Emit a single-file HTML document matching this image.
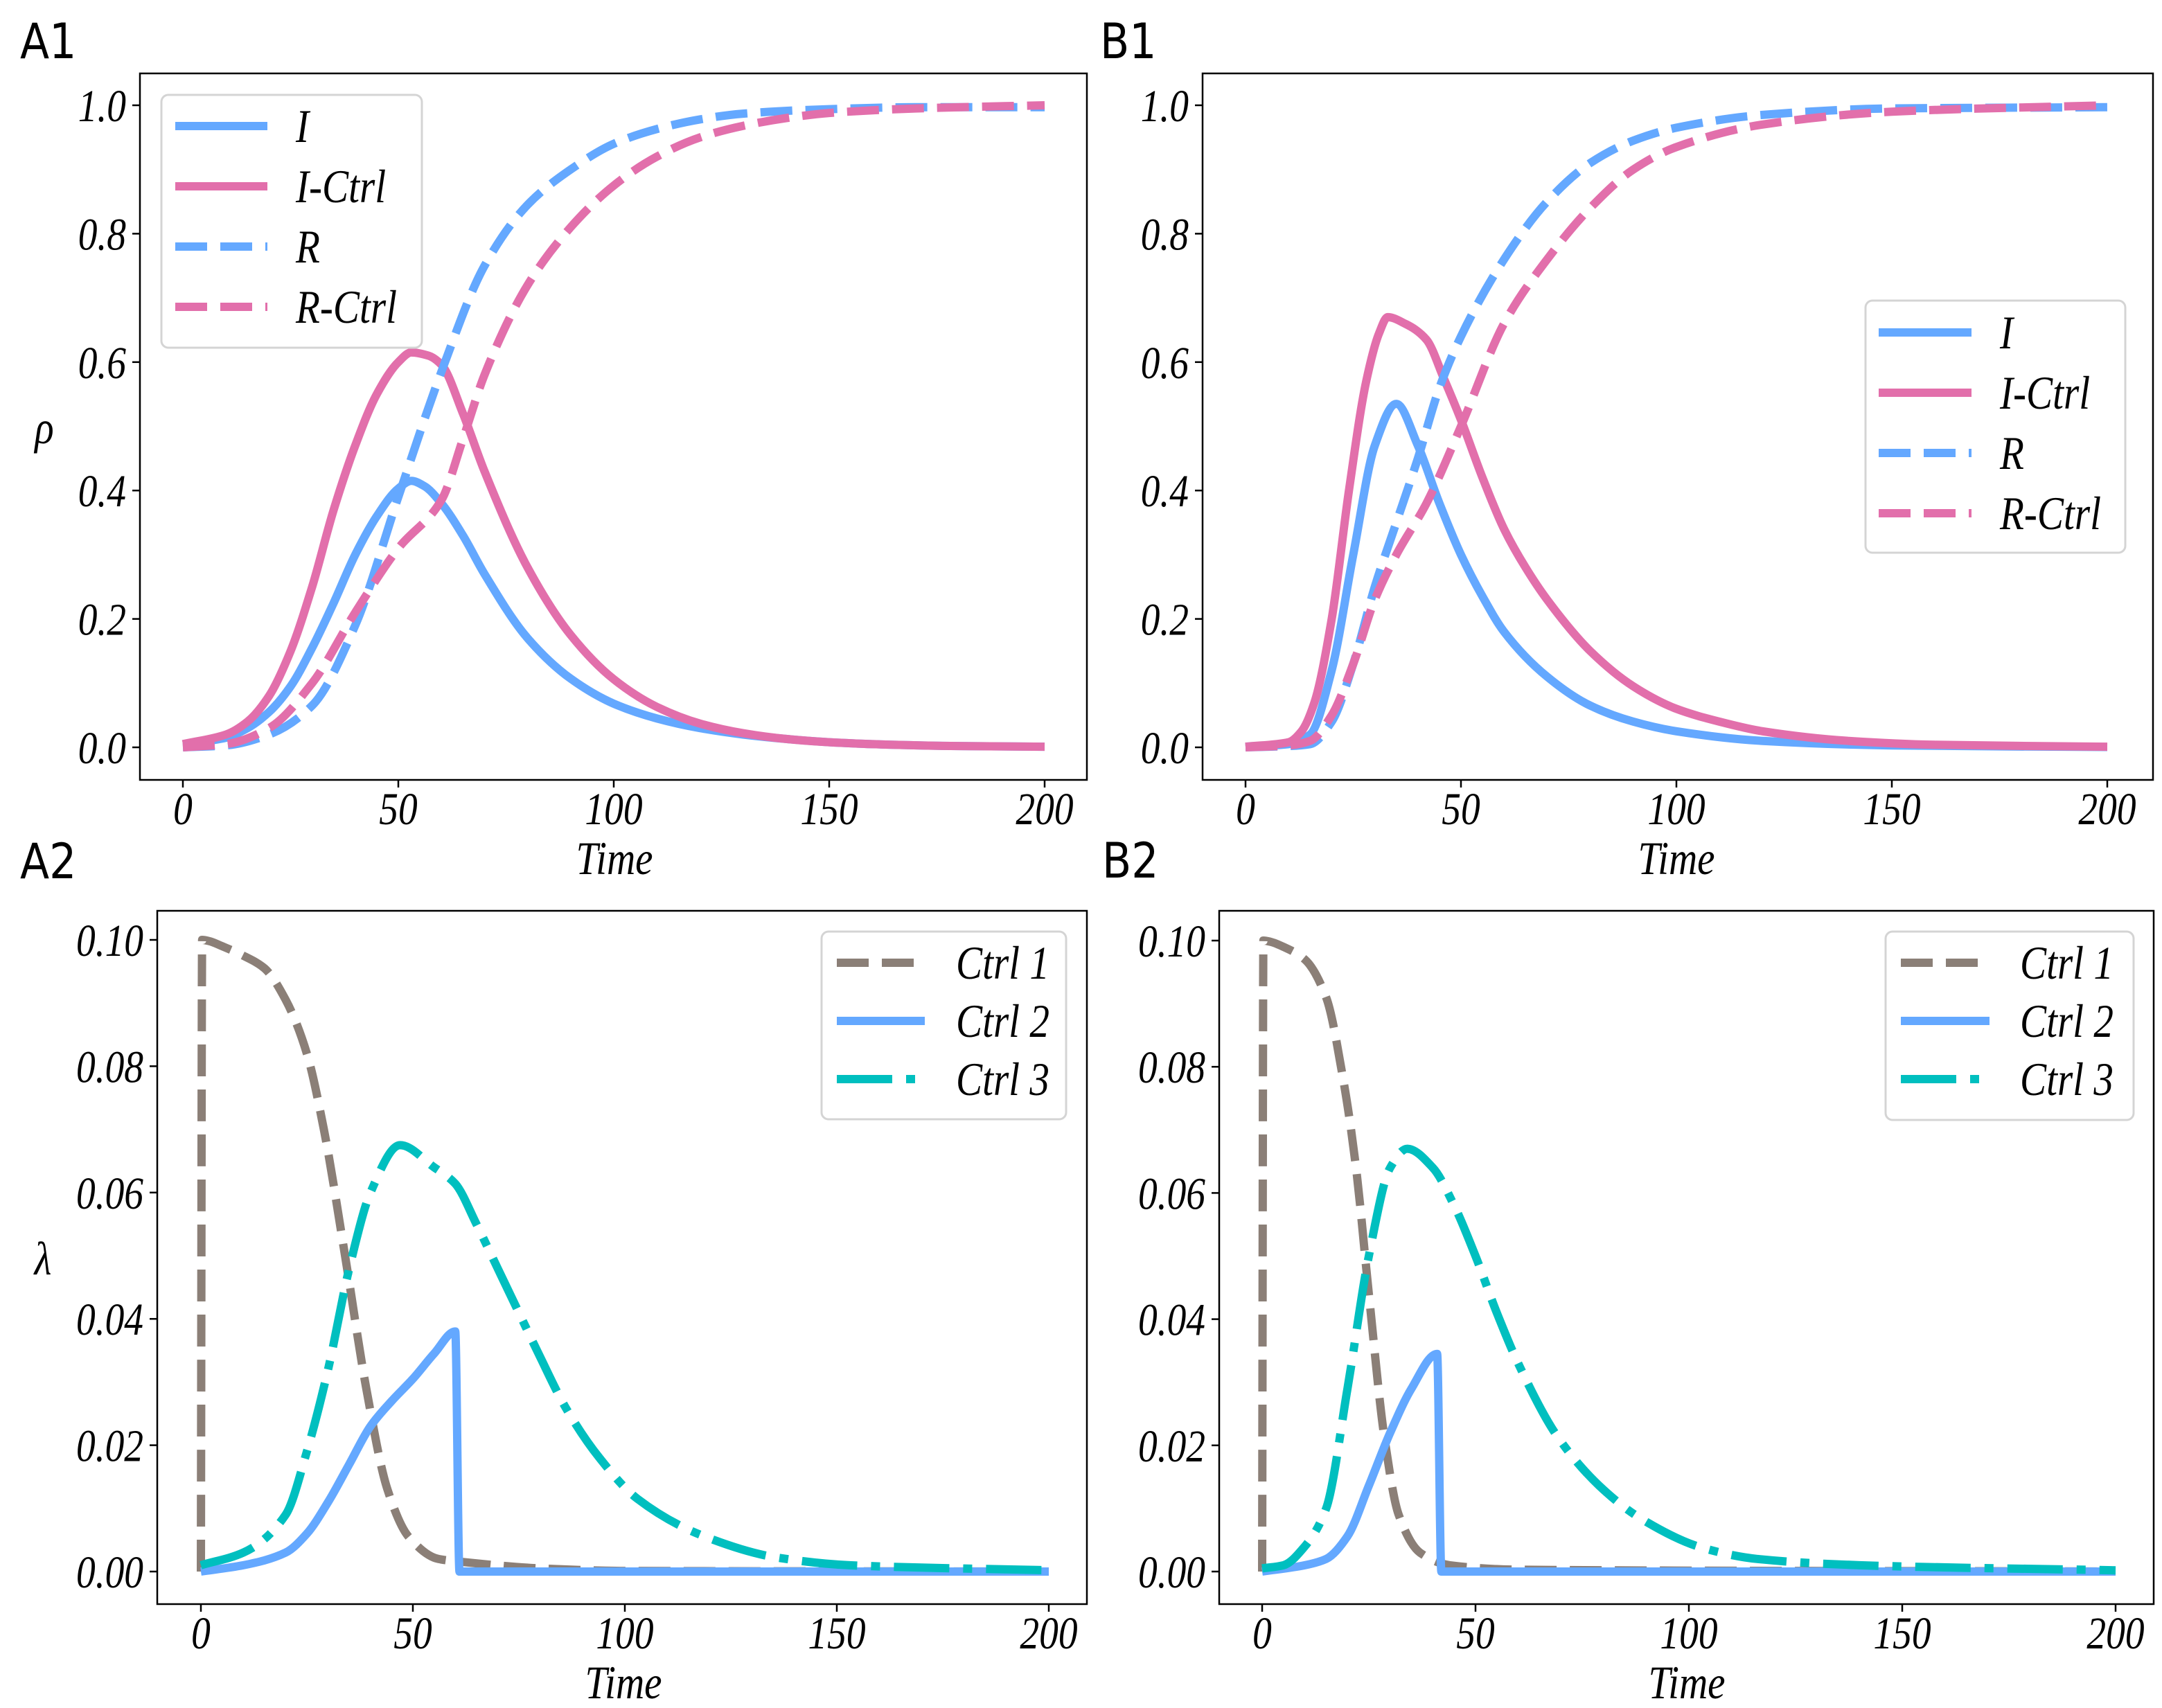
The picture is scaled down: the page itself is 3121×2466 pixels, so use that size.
<!DOCTYPE html>
<html><head><meta charset="utf-8">
<style>
html,body{margin:0;padding:0;background:#fff;}
svg{display:block;}
.tick{font-family:"Liberation Serif",serif;font-style:italic;font-size:66px;fill:#000;}
.lab{font-family:"Liberation Serif",serif;font-style:italic;font-size:68px;fill:#000;}
.leg{font-family:"Liberation Serif",serif;font-style:italic;font-size:68px;fill:#000;}
.pan{font-family:"DejaVu Sans","Liberation Sans",sans-serif;font-size:70px;fill:#000;}
</style></head>
<body>
<svg id="fig" width="3121" height="2466" viewBox="0 0 3121 2466" xmlns="http://www.w3.org/2000/svg">
<text class="pan" x="29" y="84" transform="translate(29 0) scale(0.88 1) translate(-29 0)">A1</text>
<text class="pan" x="1588" y="84" transform="translate(1588 0) scale(0.88 1) translate(-1588 0)">B1</text>
<text class="pan" x="29" y="1268" transform="translate(29 0) scale(0.88 1) translate(-29 0)">A2</text>
<text class="pan" x="1591" y="1267" transform="translate(1591 0) scale(0.88 1) translate(-1591 0)">B2</text>
</svg>
<script>
// ---------- data ----------
const xTicks = [0, 50, 100, 150, 200];
const xTickLabels = ["0", "50", "100", "150", "200"];
const rhoTicks = [0, 0.2, 0.4, 0.6, 0.8, 1.0];
const rhoTickLabels = ["0.0", "0.2", "0.4", "0.6", "0.8", "1.0"];
const lamTicks = [0, 0.02, 0.04, 0.06, 0.08, 0.10];
const lamTickLabels = ["0.00", "0.02", "0.04", "0.06", "0.08", "0.10"];

// A1
const a1_I_t = [0,10,15,20,25,30,35,40,45,50,53,56,60,65,70,80,90,100,110,120,130,140,150,160,180,200];
const a1_I_v = [0.005,0.015,0.03,0.055,0.095,0.155,0.225,0.3,0.36,0.403,0.415,0.407,0.38,0.33,0.27,0.17,0.107,0.068,0.045,0.03,0.02,0.013,0.008,0.005,0.002,0.001];
const a1_IC_t = [0,10,15,20,25,30,35,40,45,50,53,57,60,65,70,80,90,100,110,120,130,140,150,160,180,200];
const a1_IC_v = [0.005,0.02,0.04,0.08,0.15,0.25,0.37,0.47,0.55,0.6,0.615,0.61,0.596,0.52,0.43,0.28,0.175,0.106,0.063,0.037,0.022,0.013,0.008,0.005,0.002,0.001];
const a1_R_t = [0,10,20,30,40,50,60,70,80,90,100,110,120,130,150,170,200];
const a1_R_v = [0,0.003,0.02,0.065,0.19,0.39,0.585,0.75,0.845,0.9,0.94,0.963,0.978,0.987,0.994,0.997,0.997];
const a1_RC_t = [0,10,20,30,40,50,60,65,70,80,90,100,110,120,130,140,150,170,200];
const a1_RC_v = [0,0.005,0.03,0.1,0.21,0.31,0.385,0.48,0.58,0.72,0.81,0.875,0.92,0.95,0.968,0.98,0.988,0.995,1.0];

// B1
const b1_I_t = [0,10,15,20,25,30,35,40,45,50,55,60,70,80,90,100,120,150,200];
const b1_I_v = [0.001,0.005,0.02,0.12,0.3,0.47,0.535,0.47,0.38,0.3,0.235,0.18,0.11,0.065,0.04,0.025,0.01,0.003,0.0005];
const b1_IC_t = [0,10,13,16,20,24,28,31,33,37,42,46,50,55,60,65,70,80,90,100,110,120,140,160,200];
const b1_IC_v = [0.001,0.008,0.025,0.07,0.2,0.4,0.57,0.645,0.67,0.66,0.635,0.575,0.51,0.42,0.34,0.28,0.23,0.15,0.095,0.06,0.04,0.025,0.01,0.004,0.001];
const b1_R_t = [0,10,15,20,25,30,35,40,45,50,60,70,80,90,100,120,150,200];
const b1_R_v = [0,0.002,0.005,0.04,0.13,0.25,0.35,0.45,0.56,0.64,0.76,0.85,0.91,0.945,0.965,0.985,0.995,0.997];
const b1_RC_t = [0,10,15,20,25,30,35,42,50,60,70,80,90,100,120,150,200];
const b1_RC_v = [0,0.003,0.01,0.05,0.13,0.23,0.3,0.38,0.5,0.66,0.76,0.84,0.9,0.935,0.97,0.99,1.0];

// A2
const a2_C1_t = [0,0.3,2,5,10,15,20,25,29,34,39,44,49,56,62,80,100,200];
const a2_C1_v = [0,0.1,0.0998,0.099,0.0975,0.0955,0.0905,0.082,0.07,0.05,0.029,0.013,0.0055,0.002,0.0015,0.0005,0.0001,0];
const a2_C2_t = [0,10,20,25,30,35,40,45,50,55,60,61,200];
const a2_C2_v = [0,0.001,0.003,0.006,0.011,0.017,0.023,0.027,0.0305,0.0345,0.038,0,0];
const a2_C3_t = [0,10,20,25,30,35,40,47,55,60,65,70,75,80,86,94,103,119,136,153,200];
const a2_C3_v = [0.001,0.003,0.009,0.019,0.032,0.048,0.06,0.0675,0.064,0.0614,0.055,0.048,0.041,0.034,0.026,0.018,0.0115,0.0055,0.0022,0.001,0.0002];

// B2
const b2_C1_t = [0,0.3,2,5,10,15,19,22,25,28.7,32,37,44,60,200];
const b2_C1_v = [0,0.1,0.0998,0.099,0.097,0.091,0.078,0.064,0.044,0.021,0.009,0.003,0.001,0.0003,0];
const b2_C2_t = [0,10,15,20,25,30,35,41,42,200];
const b2_C2_v = [0,0.001,0.002,0.0056,0.0136,0.022,0.029,0.0345,0,0];
const b2_C3_t = [0,5,10,15,20,25,30,34,40,45,50,55,60,69,79,89,103,116,140,200];
const b2_C3_v = [0.0005,0.001,0.004,0.01,0.029,0.05,0.064,0.067,0.064,0.058,0.05,0.041,0.033,0.0216,0.0136,0.0083,0.0038,0.002,0.001,0.0002];

// ---------- rendering ----------
const NS = "http://www.w3.org/2000/svg";
const svg = document.getElementById("fig");
const BLUE = "#64a8ff", PINK = "#e26fab", BROWN = "#8b7f77", TEAL = "#00bfbf";
const LW = 12;
const DASH = "46 19";
const DASHDOT = "80 20 13 20";
const SQ = 0.84;

function mk(tag, attrs, parent) {
  const e = document.createElementNS(NS, tag);
  for (const k in attrs) e.setAttribute(k, attrs[k]);
  (parent || svg).appendChild(e);
  return e;
}
function txt(x, y, anchor, cls, parent) {
  return mk("text", { x: 0, y: 0, "text-anchor": anchor, class: cls, transform: "translate(" + x + " " + y + ") scale(" + SQ + " 1)" }, parent);
}

function monotonePath(px, py) {
  const n = px.length;
  if (n < 2) return "";
  const d = [], m = [];
  for (let i = 0; i < n - 1; i++) { const dx = px[i+1]-px[i]; d.push(dx === 0 ? 0 : (py[i+1]-py[i])/dx); }
  m[0] = d[0]; m[n-1] = d[n-2];
  for (let i = 1; i < n - 1; i++) {
    if (d[i-1]*d[i] <= 0) m[i] = 0;
    else { const h0 = px[i]-px[i-1], h1 = px[i+1]-px[i]; const w1 = 2*h1+h0, w2 = h1+2*h0; m[i] = (w1+w2)/(w1/d[i-1]+w2/d[i]); }
  }
  let s = "M" + px[0].toFixed(1) + "," + py[0].toFixed(1);
  for (let i = 0; i < n - 1; i++) {
    const h = px[i+1]-px[i];
    const c1x = px[i]+h/3, c1y = py[i]+m[i]*h/3;
    const c2x = px[i+1]-h/3, c2y = py[i+1]-m[i+1]*h/3;
    s += " C" + c1x.toFixed(1) + "," + c1y.toFixed(1) + " " + c2x.toFixed(1) + "," + c2y.toFixed(1) + " " + px[i+1].toFixed(1) + "," + py[i+1].toFixed(1);
  }
  return s;
}

function panel(cfg) {
  const g = mk("g", {});
  
  
  const sx = v => cfg.x0 + (v - 0) / 200 * (cfg.x200 - cfg.x0);
  const sy = v => cfg.yb + (v - cfg.ymin) / (cfg.ymax - cfg.ymin) * (cfg.yt - cfg.yb);
  const clip = mk("clipPath", { id: cfg.name + "-clip" }, g);
  mk("rect", { x: cfg.L, y: cfg.T, width: cfg.R - cfg.L, height: cfg.B - cfg.T }, clip);
  xTicks.forEach((t, i) => {
    const tk = mk("line", { x1: sx(t), x2: sx(t), y1: cfg.B, y2: cfg.B + 11, stroke: "#000", "stroke-width": 2.5 }, g);
    
    
    const tl = txt(sx(t), cfg.B + 64, "middle", "tick", g);
    
    
    tl.textContent = xTickLabels[i];
  });
  cfg.yTicks.forEach((v, i) => {
    const tk = mk("line", { x1: cfg.L - 11, x2: cfg.L, y1: sy(v), y2: sy(v), stroke: "#000", "stroke-width": 2.5 }, g);
    
    
    const tl = txt(cfg.L - 20, sy(v) + 23, "end", "tick", g);
    
    
    tl.textContent = cfg.yLabels[i];
  });
  const xl = txt(cfg.xlX, cfg.B + 136, "middle", "lab", g);
  
  
  xl.textContent = "Time";
  const yl = txt(cfg.ylX, cfg.ylY, "middle", "lab", g);
  
  
  yl.textContent = cfg.ylab;
  const sg = mk("g", { "clip-path": "url(#" + cfg.name + "-clip)" }, g);
  cfg.series.forEach(s => {
    const p = mk("path", { d: monotonePath(s.t.map(sx), s.v.map(sy)), fill: "none", stroke: s.color, "stroke-width": LW, "stroke-linejoin": "round" }, sg);
    if (s.dash) p.setAttribute("stroke-dasharray", s.dash);
    
    
  });
  const fr = mk("rect", { x: cfg.L, y: cfg.T, width: cfg.R - cfg.L, height: cfg.B - cfg.T, fill: "none", stroke: "#000", "stroke-width": 2.5 }, g);
  
  
  const lg = mk("g", {}, g);
  
  
  const L = cfg.leg;
  mk("rect", { x: L.x, y: L.y, width: L.w, height: L.h, rx: 10, fill: "#fff", "fill-opacity": 0.85, stroke: "#d4d4d4", "stroke-width": 3 }, lg);
  cfg.series.forEach((s, i) => {
    const yy = L.row0 + i * L.dy;
    const e = mk("g", {}, lg);
    
    
    const ln = mk("line", { x1: L.lx1, x2: L.lx2, y1: yy, y2: yy, stroke: s.color, "stroke-width": LW }, e);
    if (s.dash) ln.setAttribute("stroke-dasharray", s.dash);
    const tx = txt(L.tx, yy + 23, "start", "leg", e);
    tx.textContent = s.label;
  });
}

panel({ name: "panel-a1", L: 202, R: 1569, T: 106, B: 1126, x0: 264, x200: 1508, yb: 1079, yt: 152, ymin: 0, ymax: 1,
  yTicks: rhoTicks, yLabels: rhoTickLabels, ylab: "ρ", ylX: 64, ylY: 640, xlX: 887,
  series: [
    { id: "series-i", label: "I", t: a1_I_t, v: a1_I_v, color: BLUE },
    { id: "series-i-ctrl", label: "I-Ctrl", t: a1_IC_t, v: a1_IC_v, color: PINK },
    { id: "series-r", label: "R", t: a1_R_t, v: a1_R_v, color: BLUE, dash: DASH },
    { id: "series-r-ctrl", label: "R-Ctrl", t: a1_RC_t, v: a1_RC_v, color: PINK, dash: DASH } ],
  leg: { x: 233, y: 137, w: 376, h: 365, row0: 182, dy: 87, lx1: 253, lx2: 386, tx: 427 } });

panel({ name: "panel-b1", L: 1736, R: 3108, T: 106, B: 1126, x0: 1798, x200: 3042, yb: 1079, yt: 152, ymin: 0, ymax: 1,
  yTicks: rhoTicks, yLabels: rhoTickLabels, ylab: "", ylX: 1600, ylY: 640, xlX: 2420,
  series: [
    { id: "series-i", label: "I", t: b1_I_t, v: b1_I_v, color: BLUE },
    { id: "series-i-ctrl", label: "I-Ctrl", t: b1_IC_t, v: b1_IC_v, color: PINK },
    { id: "series-r", label: "R", t: b1_R_t, v: b1_R_v, color: BLUE, dash: DASH },
    { id: "series-r-ctrl", label: "R-Ctrl", t: b1_RC_t, v: b1_RC_v, color: PINK, dash: DASH } ],
  leg: { x: 2693, y: 434, w: 375, h: 364, row0: 480, dy: 87, lx1: 2712, lx2: 2846, tx: 2887 } });

panel({ name: "panel-a2", L: 227, R: 1569, T: 1315, B: 2316, x0: 290, x200: 1514, yb: 2269, yt: 1357, ymin: 0, ymax: 0.1,
  yTicks: lamTicks, yLabels: lamTickLabels, ylab: "λ", ylX: 62, ylY: 1840, xlX: 900,
  series: [
    { id: "series-ctrl-1", label: "Ctrl 1", t: a2_C1_t, v: a2_C1_v, color: BROWN, dash: DASH },
    { id: "series-ctrl-2", label: "Ctrl 2", t: a2_C2_t, v: a2_C2_v, color: BLUE },
    { id: "series-ctrl-3", label: "Ctrl 3", t: a2_C3_t, v: a2_C3_v, color: TEAL, dash: DASHDOT } ],
  leg: { x: 1186, y: 1345, w: 353, h: 271, row0: 1390, dy: 84, lx1: 1208, lx2: 1335, tx: 1380 } });

panel({ name: "panel-b2", L: 1760, R: 3109, T: 1315, B: 2316, x0: 1822, x200: 3054, yb: 2269, yt: 1358, ymin: 0, ymax: 0.1,
  yTicks: lamTicks, yLabels: lamTickLabels, ylab: "", ylX: 1600, ylY: 1840, xlX: 2435,
  series: [
    { id: "series-ctrl-1", label: "Ctrl 1", t: b2_C1_t, v: b2_C1_v, color: BROWN, dash: DASH },
    { id: "series-ctrl-2", label: "Ctrl 2", t: b2_C2_t, v: b2_C2_v, color: BLUE },
    { id: "series-ctrl-3", label: "Ctrl 3", t: b2_C3_t, v: b2_C3_v, color: TEAL, dash: DASHDOT } ],
  leg: { x: 2722, y: 1345, w: 358, h: 272, row0: 1390, dy: 84, lx1: 2744, lx2: 2872, tx: 2916 } });
</script>
</body></html>
